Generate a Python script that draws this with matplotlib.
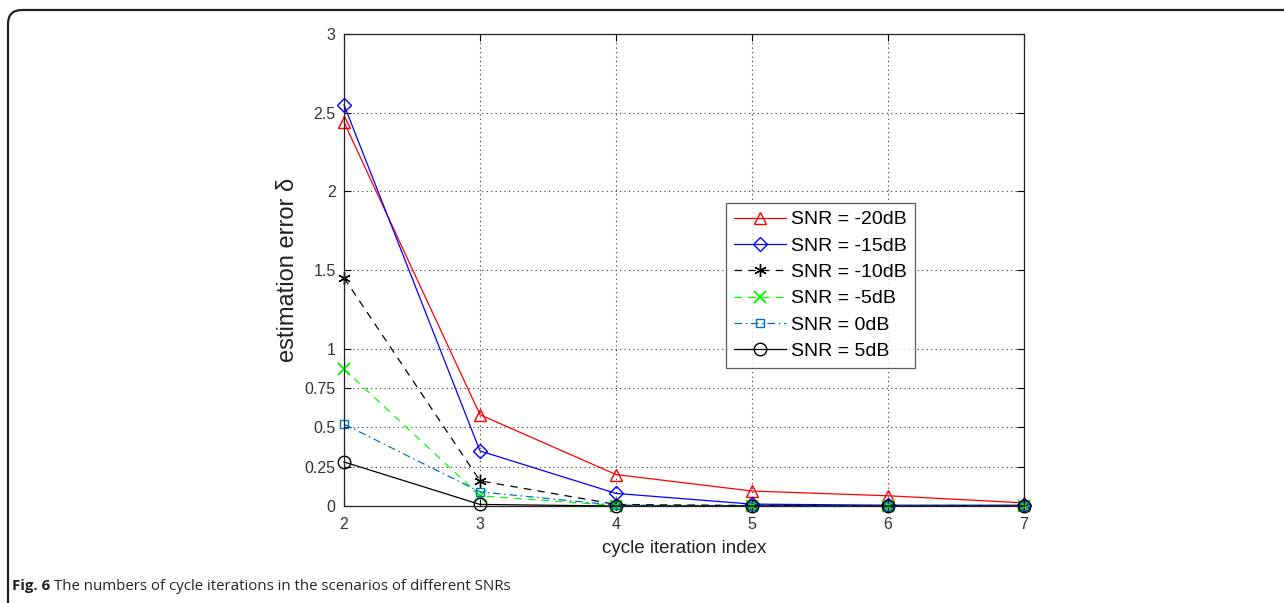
import matplotlib
matplotlib.use("Agg")
import matplotlib.pyplot as plt
from matplotlib.patches import FancyBboxPatch

iterations = [2, 3, 4, 5, 6, 7]
snr_m20 = [2.44, 0.58, 0.20, 0.095, 0.065, 0.02]
snr_m15 = [2.55, 0.35, 0.08, 0.012, 0.005, 0.005]
snr_m10 = [1.45, 0.16, 0.01, 0.003, 0.002, 0.002]
snr_m5 = [0.87, 0.065, 0.003, 0.001, 0.001, 0.001]
snr_0 = [0.52, 0.09, 0.005, 0.002, 0.001, 0.001]
snr_5 = [0.28, 0.01, 0.0, 0.0, 0.0, 0.0]
labels = ["SNR = -20dB", "SNR = -15dB", "SNR = -10dB", "SNR = -5dB", "SNR = 0dB", "SNR = 5dB"]
yticks = [0, 0.25, 0.5, 0.75, 1, 1.5, 2, 2.5, 3]
ytick_labels = ["0", "0.25", "0.5", "0.75", "1", "1.5", "2", "2.5", "3"]

plt.rcParams['font.family'] = ['Liberation Sans', 'DejaVu Sans']

W, H = 1284, 603
fig = plt.figure(figsize=(W / 100, H / 100), dpi=100)

# outer frame
ov = fig.add_axes([0, 0, 1, 1])
ov.set_xlim(0, W)
ov.set_ylim(H, 0)
ov.axis('off')
ov.add_patch(FancyBboxPatch((8, 10), 1400, 700, boxstyle="round,pad=0,rounding_size=14",
                            fill=False, ec='#222222', lw=1.6))

ax = fig.add_axes([344 / W, 1 - 506 / H, (1024 - 344) / W, (506 - 34) / H])

styles = [
    dict(color=(1, 0, 0), ls='-', marker='^', mfc='none'),
    dict(color=(0, 0, 1), ls='-', marker='D', mfc='none', ms=7),
    dict(color='black', ls=(0, (6, 5)), marker=(6, 2, 0), mfc='none'),
    dict(color=(0, 1, 0), ls=(0, (6, 5)), marker='x', mew=1.4),
    dict(color=(0, 0.447, 0.741), ls=(0, (6, 3, 1.2, 3)), marker='s', mfc='none', ms=6),
    dict(color='black', ls='-', marker='o', mfc='none'),
]
series = [snr_m20, snr_m15, snr_m10, snr_m5, snr_0, snr_5]
for vals, lab, st in zip(series, labels, styles):
    kw = dict(lw=0.9, ms=9, clip_on=False)
    kw.update(st)
    ax.plot(iterations, vals, label=lab, **kw)

ax.set_xlim(2, 7)
ax.set_ylim(0, 3)
ax.set_xticks(iterations)
ax.set_yticks(yticks)
ax.set_yticklabels(ytick_labels)
ax.grid(True, ls=(0, (1, 3)), color='#333333', lw=0.8)
ax.tick_params(direction='in', labelsize=11.5, labelcolor='#333333', length=5,
               top=True, right=True, width=0.8)
ax.tick_params(axis='x', pad=8)
ax.tick_params(axis='y', pad=6)
for s in ax.spines.values():
    s.set_lw(0.9)
    s.set_color('#222222')

ax.set_xlabel("cycle iteration index", fontsize=13.5, color='#222222', labelpad=6)
ax.set_ylabel("estimation error δ", fontsize=17, color='#222222', labelpad=4)

leg = ax.legend(loc='upper left', bbox_to_anchor=(726 / W, 1 - 203 / H),
                bbox_transform=fig.transFigure, fontsize=14, frameon=True,
                fancybox=False, edgecolor='#333333', handlelength=2.7,
                labelspacing=0.45, borderpad=0.4, handletextpad=0.25, borderaxespad=0)
leg.get_frame().set_linewidth(0.9)

# caption
t1 = fig.text(12 / W, 1 - 590 / H, "Fig. 6", fontsize=10.8, fontweight='bold',
              family=['Open Sans', 'DejaVu Sans'], color='#222222')
fig.canvas.draw()
bb = t1.get_window_extent()
fig.text((bb.x1 + 4) / W, 1 - 590 / H, "The numbers of cycle iterations in the scenarios of different SNRs",
         fontsize=10.8, family=['Open Sans', 'DejaVu Sans'], color='#222222')

fig.savefig("out.png", dpi=100)
